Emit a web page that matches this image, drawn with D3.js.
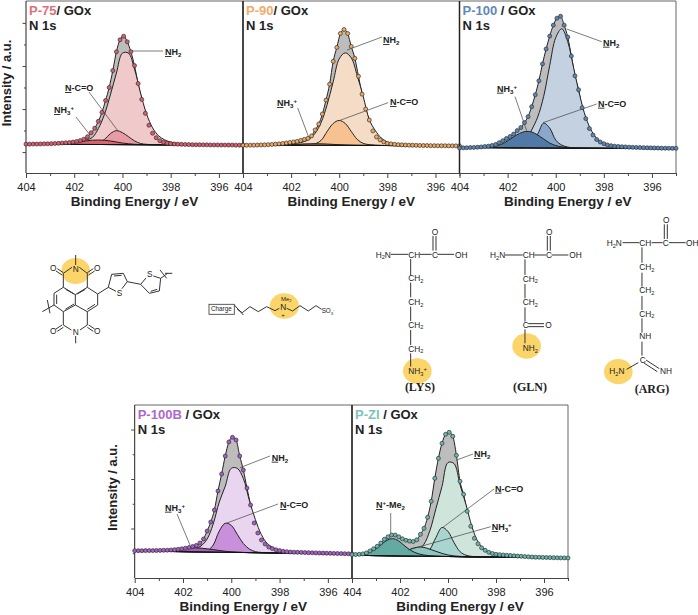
<!DOCTYPE html>
<html>
<head>
<meta charset="utf-8">
<script src="https://cdn.jsdelivr.net/npm/d3@7/dist/d3.min.js"></script>
<style>
  html, body { margin: 0; padding: 0; background: #fff; }
  svg { display: block; }
  text { font-family: "Liberation Sans", Arial, sans-serif; }
</style>
</head>
<body>
<div id="chart"></div>
<script>
// Binding energies of the fitted components (eV)
var fitEnergy = [404,403.5,403,402.5,402.25,402,401.75,401.5,401.25,401,400.75,400.5,400.25,400,399.75,399.5,399.25,399,398.75,398.5,398.25,398,397.5,397,396,395];

// Binding energies of the measured points (eV)
var scanEnergy = [404,403.85,403.7,403.55,403.4,403.25,403.1,402.95,402.8,402.65,402.5,402.35,402.2,402.05,401.9,401.75,401.6,401.45,401.3,401.15,401,400.85,400.7,400.55,400.4,400.25,400.1,399.95,399.8,399.65,399.5,399.35,399.2,399.05,398.9,398.75,398.6,398.45,398.3,398.15,398,397.85,397.7,397.55,397.4,397.25,397.1,396.95,396.8,396.65,396.5,396.35,396.2,396.05,395.9,395.75,395.6,395.45,395.3,395.15,395];

var energyMajor = [404,402,400,398,396];
var energyMinor = [403,401,399,397,395];

// P-75
var p75Scan = [1,1,1.1,1.1,1.2,1.3,1.4,1.5,1.7,1.9,2.2,2.4,2.6,3.1,3.7,4.6,6,8.5,12.5,17,24,33,45,58,75,94,106,109.5,104,94,80,62,46,32,20,12,7.5,4.5,2.8,2,1.5,1.2,1,.8,.7,.6,.5,.4,.4,.3,.3,.2,.2,.2,.1,.1,.1,.1,0,0,0];
var p75Nh2 = [.1,.2,.3,.7,1,1.5,2.5,4.5,7,16,30,50,72,92,92,76,52,31,17,9,5,2.8,1,.5,.1,0];
var p75Nco = [0,0,0,0,0,0,0,0,.5,1.5,5,11,14,12,8,3.8,1.2,.4,0,0,0,0,0,0,0,0];
var p75Nh3 = [0,0,0,.4,.9,1.6,2.6,3.6,4.3,4.5,4.3,3.6,2.6,1.6,.9,.4,.1,0,0,0,0,0,0,0,0,0];

// P-90
var p90Scan = [.6,.6,.7,.7,.8,.9,1,1.2,1.4,1.7,2,2.4,2.9,3.4,3.9,4.5,5.5,6.5,7.5,10,16,22,32,46,62,85,99,113,117,113,100,88,70,52,37,26,15,9,6,4,2.5,2,1.5,1.2,1,.8,.7,.6,.5,.4,.3,.3,.2,.2,.1,.1,.1,0,0,0,0];
var p90Nh2 = [.1,.2,.3,.6,.9,1.3,2,3.2,6,12,23,41,64,87,93,88,70,49,26,15,7.5,3.5,1.2,.5,.1,0];
var p90Nco = [0,0,0,0,0,0,0,0,.4,1.5,5,14,22,25,22,14,6,2,.8,.3,.1,0,0,0,0,0];
var p90Nh3 = [0,0,0,.2,.4,.6,.9,1.2,1.4,1.5,1.4,1.2,.9,.6,.3,.1,0,0,0,0,0,0,0,0,0,0];

// P-100
var p100Scan = [.5,.6,.7,.9,1,1.2,1.5,1.9,2.3,3,4,5.8,7.8,10,12,14.5,18,21,26,32,42,54,68,85,100,113,124,131,133,124,112,93,73,59,41,30,20,13.5,9,6.5,4.8,3.5,2.8,2.3,2,1.7,1.5,1.3,1.1,1,.9,.8,.7,.6,.5,.4,.3,.2,.2,.1,.1];
var p100Nh2 = [0,.1,.2,.5,.8,1.2,2,3.5,7,18,31,52,83,111,120,107,80,53,31,17,9,5,1.8,.8,.2,.1];
var p100Nco = [0,0,0,0,0,0,0,0,.6,6,14,25,20,8,3,1,.3,0,0,0,0,0,0,0,0,0];
var p100Nh3 = [0,0,.5,2,3.5,7,11,14.5,16.5,16,13,9,5,2.5,1.2,.5,.2,.1,0,0,0,0,0,0,0,0];

// P-100B
var p100bScan = [2.3,2.3,2.3,2.4,2.4,2.4,2.5,2.6,2.7,2.8,3,3.3,3.7,4.2,4.8,5.5,6.5,7.6,10,14,22,31,43,62,79,97,111,115.7,113,97,83,65,48,30,20,13,9,6,4.4,3.2,2.4,1.7,1.3,1,.8,.7,.6,.4,.3,.2,.1,0,-.1,-.2,-.3,-.4,-.5,-.6,-.7,-.8,-1];
var p100bNh2 = [0,0,.1,.3,.5,.8,1.2,3,6,13,28,50,66,84,84,74,52,33,18,9,5,2.5,.8,.3,0,0];
var p100bNco = [0,0,0,0,0,0,0,0,.2,1,7,21,29,27,18,9,3.5,1,.3,0,0,0,0,0,0,0];
var p100bNh3 = [0,0,.3,1.2,2,3,3.7,4,3.8,3.2,2.5,1.7,1,.5,.2,.1,0,0,0,0,0,0,0,0,0,0];

// P-ZI
var pZiScan = [2.7,2.8,3,3.4,4.4,6.4,8.5,11,14.3,18,20.5,22.3,22.3,20.5,18.5,17,16.2,15.8,17.5,23,29,40,56,79,99,114,123,125,121,102,76,63,46,31,19,13.5,9.5,7,5,3.8,3,2.6,2.3,2,1.8,1.5,1.2,1,.7,.5,.3,.1,0,-.1,-.2,-.3,-.4,-.5,-.6,-.6,-.7];
var pZiNh2 = [0,0,.1,.4,.6,1,1.8,3,6,12,26,48,70,94,93,72,52,30,15,8,4,2.2,.8,.3,0,0];
var pZiNco = [0,0,0,0,0,0,0,0,0,1,7,19,29,25,14,5,1.5,.4,0,0,0,0,0,0,0,0];
var pZiNh3 = [0,0,0,.5,1.2,3,5,7.5,9,8.8,7,5,3,1.5,.7,.3,0,0,0,0,0,0,0,0,0,0];
var pZiMe2 = [0,.8,7,16,17,14,9,5,2.5,1.2,.5,.2,0,0,0,0,0,0,0,0,0,0,0,0,0,0];

var width = 698, height = 615;
var ink = "#222";

var svg = d3.select("#chart").append("svg")
    .attr("width", width)
    .attr("height", height);

// text parts: [string, kind] where kind is u(nderline), s(ub), p(sup) or nothing
function richText(parent, parts, x, y, size, weight) {
    var t = parent.append("text")
        .attr("x", x).attr("y", y)
        .attr("font-size", size)
        .attr("font-weight", weight)
        .attr("fill", ink);
    var shift = 0;
    parts.forEach(function(p) {
        var kind = p[1];
        var want = kind === "s" ? size * 0.22 : kind === "p" ? -size * 0.35 : 0;
        var span = t.append("tspan")
            .attr("dy", want - shift)
            .attr("font-size", (kind === "s" || kind === "p") ? size * 0.68 : size)
            .text(p[0]);
        if (kind === "u") span.attr("text-decoration", "underline");
        shift = want;
    });
    return t;
}

var labelNh2 = [["N","u"],["H"],["2","s"]];
var labelNh3 = [["N","u"],["H"],["3","s"],["+","p"]];
var labelNco = [["N","u"],["-C=O"]];
var labelMe2 = [["N","u"],["+","p"],["-Me"],["2","s"]];

function drawPanel(o) {
    var g = svg.append("g");
    var x = d3.scaleLinear().domain([404,395]).range(o.xRange);
    var y = d3.scaleLinear().domain(o.yDomain).range(o.yRange);
    var background = d3.scaleLinear().domain([404,395]).range(o.slope);

    var base = function(e) { return o.flat + background(e); };

    // measured envelope, grey band under the points
    var scan = scanEnergy.map(function(e, i) { return {e: e, v: o.scan[i]}; });
    var envelope = d3.area()
        .curve(d3.curveMonotoneX)
        .x(function(d) { return x(d.e); })
        .y0(function(d) { return y(base(d.e)); })
        .y1(function(d) { return y(o.flat + d.v); });
    g.append("path").datum(scan)
        .attr("d", envelope)
        .attr("fill", "#bdbdbd")
        .attr("stroke", ink)
        .attr("stroke-width", 1);

    // fitted components
    var comp = d3.area()
        .curve(d3.curveCatmullRom)
        .x(function(d) { return x(d.e); })
        .y0(function(d) { return y(base(d.e)); })
        .y1(function(d) { return y(base(d.e) + d.v); });
    o.comps.forEach(function(c) {
        var rows = fitEnergy.map(function(e, i) { return {e: e, v: c.values[i]}; });
        g.append("path").datum(rows)
            .attr("d", comp)
            .attr("fill", c.color)
            .attr("stroke", ink)
            .attr("stroke-width", 1);
    });

    // background line
    g.append("line")
        .attr("x1", x(404)).attr("x2", x(395))
        .attr("y1", y(base(404))).attr("y2", y(base(395)))
        .attr("stroke", "#111").attr("stroke-width", 1);

    // frame
    var top = o.yRange[1], bottom = o.yRange[0];
    g.append("path")
        .attr("d", "M" + x(404) + "," + top + "H" + x(395) + "V" + bottom)
        .attr("fill", "none").attr("stroke", "#666").attr("stroke-width", 1);
    g.append("line")
        .attr("x1", x(404)).attr("x2", x(404)).attr("y1", top).attr("y2", bottom)
        .attr("stroke", ink).attr("stroke-width", o.shared ? 1.5 : 1);

    // axes
    var xAxis = d3.axisBottom(x).tickValues(energyMajor).tickSize(5).tickSizeOuter(0).tickFormat(d3.format("d"));
    var xMinor = d3.axisBottom(x).tickValues(energyMinor).tickSize(3).tickSizeOuter(0).tickFormat("");
    g.append("g").attr("transform", "translate(0," + bottom + ")").call(xMinor);
    var ax = g.append("g").attr("transform", "translate(0," + bottom + ")").call(xAxis);
    ax.selectAll("text").attr("font-size", 11).attr("font-family", "Liberation Sans").attr("fill", ink).attr("dy", "0.95em");
    g.selectAll(".domain, .tick line").attr("stroke", "#444");

    g.append("text")
        .attr("x", (x(404) + x(395)) / 2)
        .attr("y", bottom + 33)
        .attr("text-anchor", "middle")
        .attr("font-size", 13.5)
        .attr("font-weight", "bold")
        .attr("fill", ink)
        .text("Binding Energy / eV");

    if (o.yMajor) {
        var yAxis = d3.axisLeft(y).tickValues(o.yMajor).tickSize(3.5).tickSizeOuter(0).tickFormat("");
        var yMinor = d3.axisLeft(y).tickValues(o.yMinor).tickSize(2).tickSizeOuter(0).tickFormat("");
        var ya = g.append("g").attr("transform", "translate(" + x(404) + ",0)").call(yAxis);
        var yb = g.append("g").attr("transform", "translate(" + x(404) + ",0)").call(yMinor);
        ya.selectAll(".domain").remove();
        yb.selectAll(".domain").remove();
        g.selectAll(".tick line").attr("stroke", "#444");
        g.append("text")
            .attr("transform", "translate(" + (x(404) - o.titleGap) + "," + ((top + bottom) / 2 - 4) + ") rotate(-90)")
            .attr("text-anchor", "middle")
            .attr("font-size", 13)
            .attr("font-weight", "bold")
            .attr("fill", ink)
            .text("Intensity / a.u.");
    }

    // title
    var title = g.append("text")
        .attr("x", x(404) + 3)
        .attr("y", top + 13.5)
        .attr("font-size", 13)
        .attr("font-weight", "bold")
        .attr("fill", ink);
    title.append("tspan").attr("fill", o.titleColor).text(o.name);
    title.append("tspan").text(o.suffix);
    g.append("text")
        .attr("x", x(404) + 3)
        .attr("y", top + 29)
        .attr("font-size", 13)
        .attr("font-weight", "bold")
        .attr("fill", ink)
        .text("N 1s");

    // leaders and labels, under the points
    o.notes.forEach(function(n) {
        g.append("line")
            .attr("x1", n.from[0]).attr("y1", n.from[1])
            .attr("x2", n.to[0]).attr("y2", n.to[1])
            .attr("stroke", "#444").attr("stroke-width", 0.7);
        richText(g, n.label, n.at[0], n.at[1], 9, "bold");
    });

    // measured points
    g.selectAll("circle.scan")
        .data(scan)
        .enter().append("circle")
        .attr("class", "scan")
        .attr("cx", function(d) { return x(d.e); })
        .attr("cy", function(d) { return y(o.flat + d.v); })
        .attr("r", 2)
        .attr("fill", o.marker)
        .attr("stroke", "#333")
        .attr("stroke-width", 0.7);
}

var topY = {yDomain: [-21,152], yRange: [173,1]};
var lowY = {yDomain: [0,173], yRange: [578,405]};

drawPanel({
    xRange: [26,243], yDomain: topY.yDomain, yRange: topY.yRange, flat: 7, slope: [1,0],
    name: "P-75", suffix: "/ GOx", titleColor: "#e0707c", marker: "#e05a6e",
    scan: p75Scan,
    comps: [{values: p75Nh2, color: "#f0c9ca"}, {values: p75Nco, color: "#e99aa4"}, {values: p75Nh3, color: "#dc626e"}],
    yMajor: [0,43.3,86.6,130], yMinor: [21.7,65,108.3], titleGap: 15,
    notes: [
        {label: labelNh2, at: [165,55], from: [131,51], to: [163,51]},
        {label: labelNco, at: [65,91], from: [89,92], to: [118,131]},
        {label: labelNh3, at: [54,113], from: [76,117], to: [90,135]}
    ]
});
drawPanel({
    xRange: [243,459.5], yDomain: topY.yDomain, yRange: topY.yRange, flat: 6.3, slope: [1,0], shared: true,
    name: "P-90", suffix: "/ GOx", titleColor: "#f2ab6c", marker: "#f0a85c",
    scan: p90Scan,
    comps: [{values: p90Nh2, color: "#f5dcc6"}, {values: p90Nco, color: "#f7c192"}, {values: p90Nh3, color: "#f0a85c"}],
    notes: [
        {label: labelNh2, at: [383,43], from: [347,50], to: [382,37]},
        {label: labelNco, at: [390,105], from: [339,120.7], to: [388,102.7]},
        {label: labelNh3, at: [277,106], from: [297.7,108], to: [309,138]}
    ]
});
drawPanel({
    xRange: [459.5,676], yDomain: topY.yDomain, yRange: topY.yRange, flat: 3.7, slope: [1,-.3], shared: true,
    name: "P-100", suffix: " / GOx", titleColor: "#5d88b8", marker: "#5a86b8",
    scan: p100Scan,
    comps: [{values: p100Nh2, color: "#c3d1e1"}, {values: p100Nco, color: "#8aa8cc"}, {values: p100Nh3, color: "#5079a8"}],
    notes: [
        {label: labelNh2, at: [603,45.7], from: [566.7,29], to: [601.7,41.7]},
        {label: labelNco, at: [598,106.7], from: [543,122.7], to: [596.7,104]},
        {label: labelNh3, at: [497,91.7], from: [515,96.7], to: [526.7,130.7]}
    ]
});
drawPanel({
    xRange: [134.7,352], yDomain: lowY.yDomain, yRange: lowY.yRange, flat: 25, slope: [2,-1],
    name: "P-100B", suffix: " / GOx", titleColor: "#ae68cc", marker: "#a85cc8",
    scan: p100bScan,
    comps: [{values: p100bNh2, color: "#e9d5f0"}, {values: p100bNco, color: "#c88fdb"}, {values: p100bNh3, color: "#a85cc0"}],
    yMajor: [49.5,99,148.5], yMinor: [24.75,74.25,123.75], titleGap: 18,
    notes: [
        {label: labelNh2, at: [271.7,460.7], from: [240,467.7], to: [270,456]},
        {label: labelNco, at: [280,508], from: [227,523], to: [278,504]},
        {label: labelNh3, at: [165,510.7], from: [177,514], to: [190,545]}
    ]
});
drawPanel({
    xRange: [352,568], yDomain: lowY.yDomain, yRange: lowY.yRange, flat: 20.7, slope: [2,-.7], shared: true,
    name: "P-ZI", suffix: " / GOx", titleColor: "#7cc4bc", marker: "#68b8b0",
    scan: pZiScan,
    comps: [{values: pZiNh2, color: "#cfe5dc"}, {values: pZiNco, color: "#a9d5d1"}, {values: pZiNh3, color: "#8cc6be"}, {values: pZiMe2, color: "#62aaa2"}],
    notes: [
        {label: labelNh2, at: [474,457], from: [456.7,460], to: [473,454]},
        {label: labelNco, at: [495,491.7], from: [442,528], to: [494,489]},
        {label: labelNh3, at: [491.7,530], from: [408,550], to: [490.7,526.7]},
        {label: labelMe2, at: [376,508], from: [390.7,513], to: [390.7,535]}
    ]
});

// chemical structures, written at 3x and scaled down
function drawStructure(dx, dy, blobs, bonds, atoms) {
    var g = svg.append("g").attr("transform", "translate(" + dx + "," + dy + ") scale(0.3333)");
    blobs.forEach(function(b) {
        g.append("ellipse")
            .attr("cx", b[0]).attr("cy", b[1]).attr("rx", b[2]).attr("ry", b[3])
            .attr("fill", "#fbd56a");
    });
    g.selectAll("line.bond").data(bonds).enter().append("line")
        .attr("x1", function(d) { return d[0]; })
        .attr("y1", function(d) { return d[1]; })
        .attr("x2", function(d) { return d[2]; })
        .attr("y2", function(d) { return d[3]; })
        .attr("stroke", "#333")
        .attr("stroke-width", 3);
    atoms.forEach(function(a) {
        richText(g, a[0], a[1], a[2], a[3] || 25, "normal");
    });
    return g;
}

drawStructure(0, 210,
    [[227,183,43,39],[853,288,44,38]],
    [
        [227,165,227,135],[216,172,190,190],[238,172,262,190],[190,190,190,232],[262,190,262,232],
        [172,176,190,188],[168,183,186,195],[280,176,262,188],[284,183,266,195],
        [190,232,226,254],[262,232,226,254],[226,254,226,285],[190,232,162,250],[162,250,162,285],
        [170,254,170,282],[262,232,293,252],[293,252,293,285],[293,285,262,305],[285,283,262,298],
        [162,285,190,305],[190,305,226,285],[262,305,226,285],[196,298,222,282],[197,238,222,252],[256,238,232,252],
        [190,305,190,345],[262,305,262,345],[190,345,214,360],[262,345,240,360],
        [172,364,190,352],[168,357,186,345],[280,364,262,352],[284,357,266,345],
        [227,378,227,400],[127,305,162,285],[142,270,150,310],
        [293,252,325,232],[325,232,335,193],[335,193,370,190],[342,198,365,196],[370,190,382,215],[382,215,366,236],[325,232,348,244],
        [382,215,422,223],[422,223,448,250],[448,250,478,243],[452,244,472,238],[478,243,482,205],[422,223,438,204],[482,205,460,198],
        [482,205,503,190],[480,180,500,205],[495,190,517,190],
        [703,285,730,315],[712,298,727,308],[727,308,750,290],[750,290,775,305],[775,305,800,290],[800,290,825,302],[825,302,838,295],
        [860,295,878,303],[878,303,900,287],[900,287,925,303],[925,303,948,287],[948,287,965,298]
    ],
    [
        [[["N"]],218,186],[[["O"]],150,184],[[["O"]],282,184],[[["O"]],150,372],[[["O"]],282,372],[[["N"]],218,374],
        [[["S"]],350,257],[[["S"]],441,202],
        [[["Me"],["2","s"]],843,272,18],[[["N"]],841,299],[[["+"]],844,321,18],[[["SO"],["3","s"],["-","p"]],965,310,19],
        [[["Charge"]],633,303,19]
    ])
    .call(function(g) {
        g.append("rect").attr("x", 627).attr("y", 283).attr("width", 76).attr("height", 30)
            .attr("fill", "none").attr("stroke", "#444").attr("stroke-width", 2.6);
    });

drawStructure(340, 210,
    [[232,483,43,38],[560,408,43,38],[835,485,43,38]],
    [
        [152,133,205,133],[240,133,275,133],[292,133,342,133],[279,78,279,122],[288,78,288,122],
        [212,147,212,195],[212,218,212,262],[212,290,212,333],[212,360,212,405],[212,430,212,470],
        [495,135,548,135],[583,135,618,135],[635,135,685,135],[622,78,622,122],[631,78,631,122],
        [555,148,555,195],[555,222,555,265],[555,292,555,335],[565,341,612,341],[565,350,612,350],[555,358,555,400],
        [848,98,898,98],[935,98,968,98],[987,98,1037,98],[973,43,973,87],[982,43,982,87],
        [906,112,906,158],[906,188,906,230],[906,258,906,300],[906,325,906,368],[906,395,906,437],
        [860,478,895,458],[918,450,958,476],[912,459,952,485]
    ],
    [
        [[["H"],["2","s"],["N"]],107,143],[[["CH"]],205,143],[[["C"]],276,143],[[["OH"]],345,143],[[["O"]],275,74],
        [[["CH"],["2","s"]],205,213],[[["CH"],["2","s"]],205,285],[[["CH"],["2","s"]],205,353],[[["CH"],["2","s"]],205,425],
        [[["NH"],["3","s"],["+","p"]],205,492],
        [[["H"],["2","s"],["N"]],450,145],[[["CH"]],548,145],[[["C"]],618,145],[[["OH"]],688,145],[[["O"]],618,74],
        [[["CH"],["2","s"]],548,215],[[["CH"],["2","s"]],548,285],[[["C"]],548,354],[[["O"]],616,354],[[["NH"],["2","s"]],548,423],
        [[["H"],["2","s"],["N"]],800,108],[[["CH"]],898,108],[[["C"]],968,108],[[["OH"]],1038,108],[[["O"]],969,38],
        [[["CH"],["2","s"]],898,180],[[["CH"],["2","s"]],898,250],[[["CH"],["2","s"]],898,320],[[["NH"]],898,387],
        [[["C"]],899,458],[[["H"],["2","s"],["N"]],808,492],[[["NH"]],960,492]
    ]);

// amino acid names
var acidNames = ["(LYS)", "(GLN)", "(ARG)"];
var acidX = [420, 530, 652];
var acidY = [391, 391, 393];
svg.selectAll("text.acid").data(acidNames).enter().append("text")
    .attr("class", "acid")
    .attr("x", function(d, i) { return acidX[i]; })
    .attr("y", function(d, i) { return acidY[i]; })
    .attr("text-anchor", "middle")
    .attr("font-size", 12)
    .attr("font-weight", "bold")
    .style("font-family", "Liberation Serif")
    .attr("fill", "#222")
    .text(function(d) { return d; });
</script>
</body>
</html>
